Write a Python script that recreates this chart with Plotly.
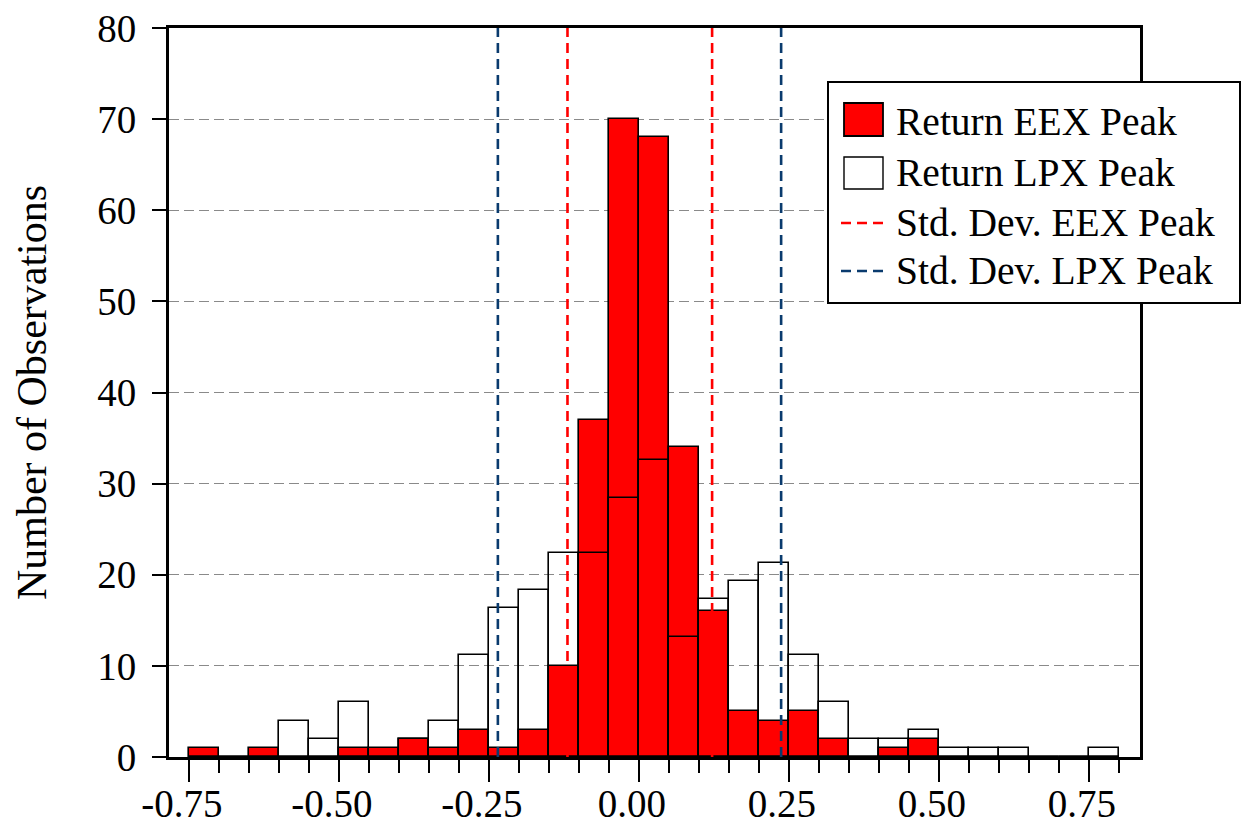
import plotly.graph_objects as go

# ---- data ----
bin_centers = [-0.725, -0.675, -0.625, -0.575, -0.525, -0.475, -0.425, -0.375, -0.325, -0.275,
               -0.225, -0.175, -0.125, -0.075, -0.025, 0.025, 0.075, 0.125, 0.175, 0.225,
               0.275, 0.325, 0.375, 0.425, 0.475, 0.525, 0.575, 0.625, 0.675, 0.725, 0.775]
eex_counts = [1, 0, 1, 0, 0, 1, 1, 2, 1, 3,
              1, 3, 10, 37, 70, 68, 34, 16, 5, 4,
              5, 2, 0, 1, 2, 0, 0, 0, 0, 0, 0]
lpx_counts = [0, 0, 0, 4, 2, 6, 0, 2, 4, 11.2,
              16.3, 18.3, 22.4, 22.4, 28.4, 32.6, 13.2, 17.3, 19.3, 21.3,
              11.2, 6, 2, 2, 3, 1, 1, 1, 0, 0, 1]
std_eex = [-0.119, 0.122]
std_lpx = [-0.235, 0.237]
x_tickvals = [-0.75, -0.5, -0.25, 0.0, 0.25, 0.5, 0.75]
x_ticktext = ["-0.75", "-0.50", "-0.25", "0.00", "0.25", "0.50", "0.75"]
y_tickvals = [0, 10, 20, 30, 40, 50, 60, 70, 80]
legend_labels = ["Return EEX Peak", "Return LPX Peak", "Std. Dev. EEX Peak", "Std. Dev. LPX Peak"]

RED = "#FF0000"
BLUE = "#0A3B6E"
FONT = "Liberation Serif"
OFF = 8  # page body margin
W, H = 1244, 816
L, R, T, B = 161, 112, 20, 67
DASH = "10px,6px"

fig = go.Figure()
fig.add_trace(go.Bar(x=bin_centers, y=eex_counts, width=0.05, name=legend_labels[0],
                     marker=dict(color=RED, line=dict(color="black", width=1.6)),
                     showlegend=False))
fig.add_trace(go.Bar(x=bin_centers, y=lpx_counts, width=0.05, name=legend_labels[1],
                     marker=dict(color="rgba(0,0,0,0)", line=dict(color="black", width=1.6)),
                     showlegend=False))

shapes = []
for v in std_eex:
    shapes.append(dict(type="line", xref="x", yref="paper", x0=v, x1=v, y0=0, y1=1,
                       line=dict(color=RED, width=2.6, dash=DASH)))
for v in std_lpx:
    shapes.append(dict(type="line", xref="x", yref="paper", x0=v, x1=v, y0=0, y1=1,
                       line=dict(color=BLUE, width=2.6, dash=DASH)))

# ---- manual legend (layout only, paper coordinates from screen pixels) ----
pw, ph = W - L - R, H - T - B
def px(xp):
    return (xp - OFF - L) / pw
def py(yp):
    return (OFF + H - B - yp) / ph

shapes.append(dict(type="rect", xref="paper", yref="paper", x0=px(828), x1=px(1240),
                   y0=py(303), y1=py(82), fillcolor="white", line=dict(color="black", width=2)))
shapes.append(dict(type="rect", xref="paper", yref="paper", x0=px(844), x1=px(883),
                   y0=py(136), y1=py(103), fillcolor=RED, line=dict(color="black", width=1.8)))
shapes.append(dict(type="rect", xref="paper", yref="paper", x0=px(844), x1=px(883),
                   y0=py(189), y1=py(157), fillcolor="white", line=dict(color="black", width=1.4)))
shapes.append(dict(type="line", xref="paper", yref="paper", x0=px(841), x1=px(889),
                   y0=py(223), y1=py(223), line=dict(color=RED, width=2.6, dash=DASH)))
shapes.append(dict(type="line", xref="paper", yref="paper", x0=px(841), x1=px(889),
                   y0=py(271), y1=py(271), line=dict(color=BLUE, width=2.6, dash=DASH)))

annotations = []
for lab, yc in zip(legend_labels, [122, 173, 223, 271]):
    annotations.append(dict(text=lab, xref="paper", yref="paper", x=px(894), y=py(yc),
                            xanchor="left", yanchor="middle", showarrow=False,
                            font=dict(family=FONT, size=39.5, color="black")))

fig.update_layout(
    width=W, height=H,
    margin=dict(l=L, r=R, t=T, b=B, autoexpand=False),
    paper_bgcolor="white", plot_bgcolor="white",
    barmode="overlay", bargap=0,
    font=dict(family=FONT, size=38, color="black"),
    shapes=shapes, annotations=annotations,
    showlegend=False,
)
fig.update_xaxes(
    range=[-0.783, 0.835], tickvals=x_tickvals, ticktext=x_ticktext,
    ticks="outside", ticklen=22, tickwidth=1.5, tickcolor="black",
    minor=dict(dtick=0.05, tick0=0, ticks="outside", ticklen=13, tickwidth=1.5, tickcolor="black", showgrid=False),
    showgrid=False, zeroline=False, automargin=False,
    showline=True, linecolor="black", linewidth=3, mirror=True,
    tickfont=dict(family=FONT, size=39), ticklabelshift=-7, ticklabelstandoff=-12,
    ticklabeloverflow="allow",
)
fig.update_yaxes(
    range=[0, 80], tickvals=y_tickvals,
    ticks="outside", ticklen=14, tickwidth=1.5, tickcolor="black",
    showgrid=True, gridcolor="#8a8a8a", gridwidth=1.3, griddash="10px,5px",
    zeroline=False, automargin=False,
    showline=True, linecolor="black", linewidth=3, mirror=True,
    tickfont=dict(family=FONT, size=39), ticklabelstandoff=8,
    ticklabeloverflow="allow",
    title=dict(text="Number of Observations", font=dict(family=FONT, size=42), standoff=38),
)

fig.write_html("out.html")
